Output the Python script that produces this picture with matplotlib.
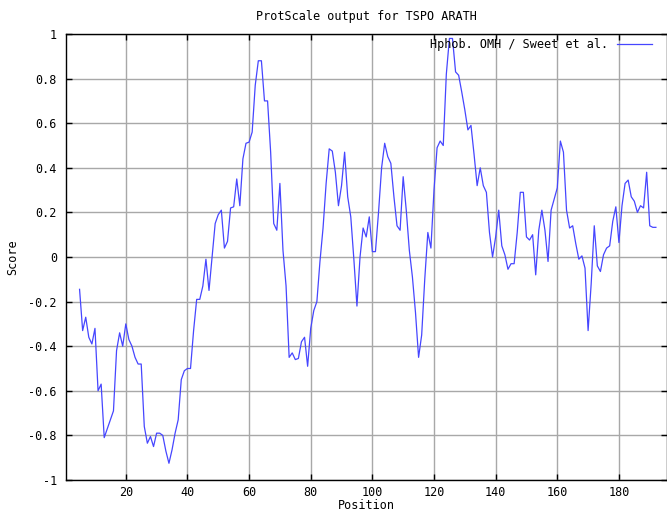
import matplotlib
matplotlib.use("Agg")
import matplotlib.pyplot as plt

# hydrophobicity scores, window positions 5..192
positions = list(range(5, 193))
scores = [
    -0.145, -0.33, -0.27, -0.36, -0.39, -0.32, -0.60, -0.57, -0.81, -0.77,   # 5-14
    -0.73, -0.69, -0.42, -0.34, -0.40, -0.30, -0.37, -0.40, -0.45, -0.48,    # 15-24
    -0.48, -0.76, -0.835, -0.805, -0.85, -0.79, -0.79, -0.80, -0.87, -0.925, # 25-34
    -0.865, -0.79, -0.73, -0.55, -0.51, -0.50, -0.50, -0.33, -0.19, -0.19,   # 35-44
    -0.13, -0.01, -0.15, 0.00, 0.15, 0.19, 0.21, 0.04, 0.07, 0.22,           # 45-54
    0.225, 0.35, 0.23, 0.44, 0.51, 0.515, 0.56, 0.77, 0.88, 0.88,            # 55-64
    0.70, 0.70, 0.47, 0.15, 0.12, 0.33, 0.03, -0.13, -0.45, -0.43,           # 65-74
    -0.46, -0.455, -0.38, -0.36, -0.49, -0.32, -0.24, -0.20, -0.02, 0.13,    # 75-84
    0.33, 0.485, 0.475, 0.38, 0.23, 0.32, 0.47, 0.27, 0.18, -0.01,           # 85-94
    -0.22, 0.00, 0.13, 0.09, 0.18, 0.024, 0.024, 0.20, 0.40, 0.51,           # 95-104
    0.45, 0.42, 0.27, 0.14, 0.12, 0.36, 0.21, 0.03, -0.09, -0.25,            # 105-114
    -0.45, -0.35, -0.10, 0.11, 0.04, 0.30, 0.49, 0.52, 0.50, 0.82,           # 115-124
    0.98, 0.98, 0.83, 0.815, 0.74, 0.66, 0.57, 0.59, 0.46, 0.32,             # 125-134
    0.40, 0.32, 0.29, 0.11, 0.00, 0.09, 0.21, 0.05, 0.01, -0.055,            # 135-144
    -0.03, -0.03, 0.11, 0.29, 0.29, 0.09, 0.076, 0.10, -0.08, 0.12,          # 145-154
    0.21, 0.12, -0.02, 0.21, 0.26, 0.31, 0.52, 0.47, 0.21, 0.13,             # 155-164
    0.14, 0.06, -0.01, 0.005, -0.05, -0.33, -0.12, 0.14, -0.04, -0.065,      # 165-174
    0.01, 0.04, 0.05, 0.16, 0.225, 0.065, 0.23, 0.33, 0.345, 0.27,           # 175-184
    0.25, 0.20, 0.23, 0.22, 0.38, 0.14, 0.133, 0.133,                        # 185-192
]

xticks = [20, 40, 60, 80, 100, 120, 140, 160, 180]
yticks = [-1, -0.8, -0.6, -0.4, -0.2, 0, 0.2, 0.4, 0.6, 0.8, 1]
ytick_labels = ["-1", "-0.8", "-0.6", "-0.4", "-0.2", "0", "0.2", "0.4", "0.6", "0.8", "1"]

plt.rcParams['font.family'] = ['DejaVu Sans Mono']
plt.rcParams['font.size'] = 8.5

fig = plt.figure(figsize=(6.67, 5.15), dpi=100)
ax = fig.add_axes([66 / 667, 1 - 480 / 515, 601 / 667, 446 / 515])

ax.plot(positions, scores, color='#4646ff', lw=0.9, label='Hphob. OMH / Sweet et al.')

ax.set_xlim(0.6, 195.6)
ax.set_ylim(-1, 1)
ax.set_xticks(xticks)
ax.set_yticks(yticks)
ax.set_yticklabels(ytick_labels)
ax.grid(True, color='#a8a8a8', lw=1)
ax.set_axisbelow(True)
ax.tick_params(direction='in', top=True, right=True, length=4, width=1,
               color='black', pad=6.5)
ax.tick_params(axis='x', pad=4)
for s in ax.spines.values():
    s.set_linewidth(1)

ax.set_title("ProtScale output for TSPO ARATH", fontsize=8.5, pad=10)
ax.set_xlabel("Position", labelpad=0)
ax.set_ylabel("Score", labelpad=6.5)

ax.legend(loc='upper right', frameon=False, markerfirst=False,
          handlelength=3.0, handletextpad=0.75, borderpad=0,
          borderaxespad=0, bbox_to_anchor=(0.975, 0.99))

fig.savefig("out.png", dpi=100)
